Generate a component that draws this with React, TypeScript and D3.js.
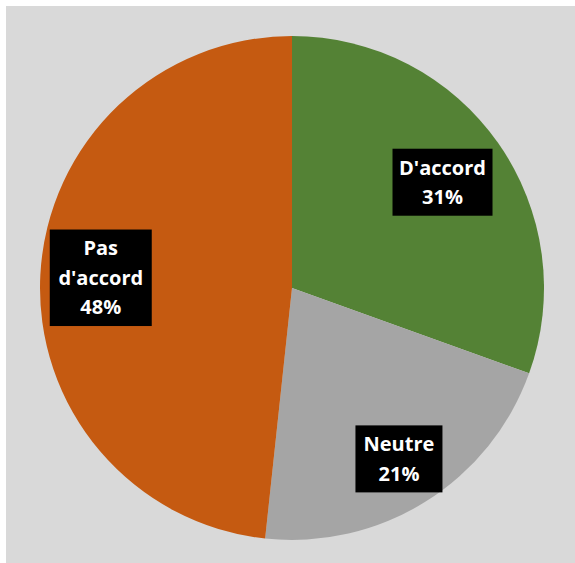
import React from "react";
import * as d3 from "d3";

const categories = ["D'accord", "Neutre", "Pas d'accord"];
const values = [30.5, 21.2, 48.3];
const labelWords = [["D'accord"], ["Neutre"], ["Pas", "d'accord"]];
const colors = ["#548235", "#A5A5A5", "#C55A11"];
const labelRadiusFactor = [0.73, 0.8, 0.76];
const boxWidths = [100, 87, 102];

const W = 575;
const H = 563;

export default function App() {
  const cx = 292;
  const cy = 288;
  const r = 252;
  const pie = d3.pie<number>().sort(null).value((d) => d)(values);
  const arc = d3.arc<d3.PieArcDatum<number>>().innerRadius(0).outerRadius(r);
  const lineH = 29.5;
  const fontSize = 20;
  return (
    <svg
      width={W}
      height={H}
      style={{ position: "absolute", left: 0, top: 0 }}
      fontFamily="'Open Sans', 'Liberation Sans', sans-serif"
    >
      <rect x={0} y={0} width={W} height={H} fill="#ffffff" />
      <rect x={6} y={6} width={W - 6} height={H - 6} fill="#D9D9D9" />
      <g transform={`translate(${cx},${cy})`}>
        {pie.map((p, i) => (
          <path key={categories[i]} d={arc(p) || ""} fill={colors[i]} />
        ))}
        {pie.map((p, i) => {
          const mid = (p.startAngle + p.endAngle) / 2;
          const lr = r * labelRadiusFactor[i];
          const x = Math.sin(mid) * lr;
          const y = -Math.cos(mid) * lr;
          const lines = [...labelWords[i], `${Math.round(values[i])}%`];
          const h = lines.length * lineH + 8;
          const w = boxWidths[i];
          return (
            <g key={"l" + i} transform={`translate(${x},${y})`}>
              <rect x={-w / 2} y={-h / 2} width={w} height={h} fill="#000" />
              {lines.map((t, j) => (
                <text
                  key={j}
                  x={0}
                  y={-((lines.length - 1) * lineH) / 2 + j * lineH}
                  dy="0.36em"
                  textAnchor="middle"
                  fill="#fff"
                  fontWeight="bold"
                  fontSize={fontSize}
                >
                  {t}
                </text>
              ))}
            </g>
          );
        })}
      </g>
    </svg>
  );
}
